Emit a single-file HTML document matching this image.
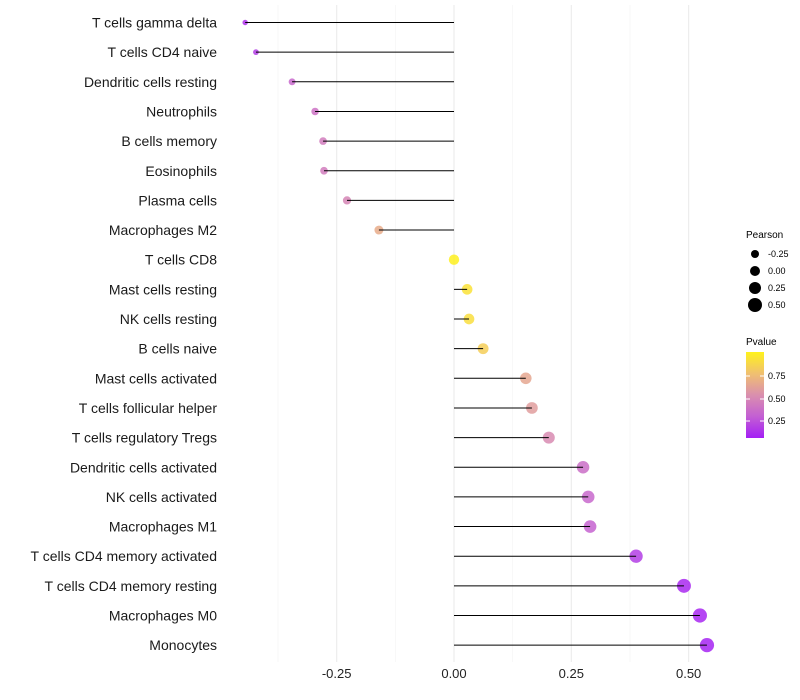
<!DOCTYPE html>
<html><head><meta charset="utf-8"><style>
body{margin:0;background:#fff;}
svg{display:block;font-family:"Liberation Sans",sans-serif;}
</style></head><body>
<svg id="chart" width="800" height="700" viewBox="0 0 800 700">
<defs>
<linearGradient id="pgrad" x1="0" y1="1" x2="0" y2="0">
<stop offset="0" stop-color="#a41ff5"/>
<stop offset="0.25" stop-color="#c35fd3"/>
<stop offset="0.5" stop-color="#da8fae"/>
<stop offset="0.75" stop-color="#f0c070"/>
<stop offset="1" stop-color="#fff21c"/>
</linearGradient>
</defs>
<g id="grid"></g>
<g id="marks"></g>
<g id="ylabels"></g>
<g id="xlabels"></g>
<g font-size="9">
<text x="746" y="238" font-size="10">Pearson</text>
<circle cx="755" cy="254" r="4" fill="#000"/><text x="768" y="257">-0.25</text>
<circle cx="755" cy="271" r="5" fill="#000"/><text x="768" y="274">0.00</text>
<circle cx="755" cy="288" r="6" fill="#000"/><text x="768" y="291">0.25</text>
<circle cx="755" cy="305" r="7" fill="#000"/><text x="768" y="308">0.50</text>
</g>
<g font-size="9">
<text x="746" y="345" font-size="10">Pvalue</text>
<rect x="746" y="352" width="18" height="86" fill="url(#pgrad)"/>
<line x1="746" x2="750" y1="376" y2="376" stroke="#fff"/><line x1="760" x2="764" y1="376" y2="376" stroke="#fff"/>
<line x1="746" x2="750" y1="399" y2="399" stroke="#fff"/><line x1="760" x2="764" y1="399" y2="399" stroke="#fff"/>
<line x1="746" x2="750" y1="421" y2="421" stroke="#fff"/><line x1="760" x2="764" y1="421" y2="421" stroke="#fff"/>
<text x="768" y="379">0.75</text>
<text x="768" y="402">0.50</text>
<text x="768" y="424">0.25</text>
</g>
</svg>
<script>
const categories=["T cells gamma delta","T cells CD4 naive","Dendritic cells resting","Neutrophils","B cells memory","Eosinophils","Plasma cells","Macrophages M2","T cells CD8","Mast cells resting","NK cells resting","B cells naive","Mast cells activated","T cells follicular helper","T cells regulatory  Tregs ","Dendritic cells activated","NK cells activated","Macrophages M1","T cells CD4 memory activated","T cells CD4 memory resting","Macrophages M0","Monocytes"];
const pearson=[-0.445,-0.422,-0.345,-0.296,-0.279,-0.277,-0.228,-0.160,0.0,0.028,0.032,0.062,0.153,0.166,0.202,0.275,0.286,0.290,0.388,0.490,0.524,0.539];
const pvalue=[0.08,0.12,0.3,0.35,0.4,0.4,0.45,0.65,0.99,0.92,0.9,0.82,0.62,0.57,0.48,0.33,0.3,0.27,0.12,0.04,0.03,0.02];
const xTicks=[-0.25,0,0.25,0.5];
const xTickLabels=["-0.25","0.00","0.25","0.50"];
const NS="http://www.w3.org/2000/svg";
const x=v=>454+v*469.3;
const y=i=>22.5+i*29.65;
const rad=p=>Math.max(1.5,Math.sqrt(Math.max(2,27+44*p)));
const stops=[[0,[164,31,245]],[0.25,[195,95,211]],[0.5,[218,143,174]],[0.75,[240,192,112]],[1,[255,242,28]]];
function col(p){for(let k=1;k<stops.length;k++){if(p<=stops[k][0]){const a=stops[k-1],b=stops[k];const t=(p-a[0])/(b[0]-a[0]);const c=a[1].map((v,j)=>Math.round(v+(b[1][j]-v)*t));return `rgb(${c})`;}}return "rgb(255,242,28)";}
function mk(tag,attrs,parent){const e=document.createElementNS(NS,tag);for(const k in attrs)e.setAttribute(k,attrs[k]);parent.appendChild(e);return e;}
const grid=document.getElementById('grid'),marks=document.getElementById('marks'),yl=document.getElementById('ylabels'),xl=document.getElementById('xlabels');
[-0.375,-0.125,0.125,0.375].forEach(v=>{const l=mk('line',{x1:x(v),x2:x(v),y1:5,y2:662,stroke:'#f2f2f2','stroke-width':0.6},grid);

});
xTicks.forEach((v,i)=>{const l=mk('line',{x1:x(v),x2:x(v),y1:5,y2:662,stroke:'#ebebeb','stroke-width':1.1},grid);


const t=mk('text',{x:x(v),y:678,'text-anchor':'middle','font-size':13,fill:'#222'},xl);t.textContent=xTickLabels[i];

});
categories.forEach((c,i)=>{
const t=mk('text',{x:217,y:y(i)+5,'text-anchor':'end','font-size':14,fill:'#1a1a1a'},yl);t.textContent=c;


const cc=mk('circle',{cx:x(pearson[i]),cy:y(i),r:rad(pearson[i]),fill:col(pvalue[i]),'fill-opacity':0.85},marks);


const l=mk('line',{x1:x(0),x2:x(pearson[i]),y1:y(i),y2:y(i),stroke:'#000','stroke-width':1},marks);


});
</script>
</body></html>
